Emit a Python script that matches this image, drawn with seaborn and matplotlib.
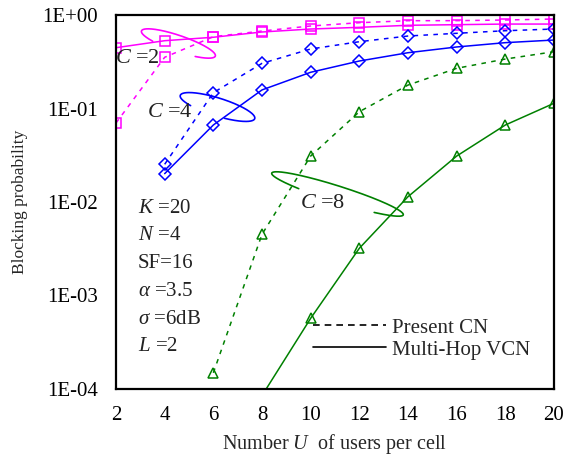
import numpy as np
import pandas as pd
import matplotlib
matplotlib.use("Agg")
import matplotlib.pyplot as plt
import seaborn as sns
from matplotlib.ticker import MultipleLocator, LogLocator, FuncFormatter, NullFormatter
from matplotlib.lines import Line2D

# ---------------- data ----------------
users = [2, 4, 6, 8, 10, 12, 14, 16, 18, 20]

c2_present = [0.070, 0.353, 0.586, 0.674, 0.763, 0.827, 0.869, 0.870, 0.884, 0.906]
c2_vcn = [0.447, 0.531, 0.578, 0.658, 0.708, 0.738, 0.776, 0.788, 0.800, 0.800]

users_c4 = [4, 6, 8, 10, 12, 14, 16, 18, 20]
c4_present = [0.0253, 0.1476, 0.304, 0.433, 0.518, 0.596, 0.637, 0.679, 0.708]
c4_vcn = [0.0201, 0.0666, 0.158, 0.244, 0.322, 0.395, 0.455, 0.506, 0.540]

users_c8_present = [6, 8, 10, 12, 14, 16, 18, 20]
c8_present = [1.49e-4, 4.51e-3, 0.031, 0.0924, 0.178, 0.269, 0.338, 0.405]
users_c8_vcn = [8, 10, 12, 14, 16, 18, 20]
c8_vcn = [8.5e-5, 5.7e-4, 3.2e-3, 0.0114, 0.031, 0.0666, 0.1137]

x_ticks = [2, 4, 6, 8, 10, 12, 14, 16, 18, 20]
y_ticks = [1e-4, 1e-3, 1e-2, 1e-1, 1e0]

params = ["$K$ =20", "$N$ =4", "SF=16", r"$\alpha$ =3.5", r"$\sigma$ =6dB", "$L$ =2"]
legend_labels = ["Present CN", "Multi-Hop VCN"]

# ---------------- style ----------------
sns.set_theme(style="white")
plt.rcParams["font.family"] = ["Liberation Serif", "DejaVu Serif"]
plt.rcParams["mathtext.fontset"] = "custom"
plt.rcParams["mathtext.rm"] = "Liberation Serif"
plt.rcParams["mathtext.it"] = "Liberation Serif:italic"

W, H = 575, 455
fig = plt.figure(figsize=(W / 100, H / 100), dpi=100)
L, R, T, B = 116, 554, 15, 389
ax = fig.add_axes([L / W, 1 - B / H, (R - L) / W, (B - T) / H])

magenta = "#FF00FF"
blue = "#0000FF"
green = "#008000"
dash = (0, (3, 3.5))

series = [
    (users, c2_present, magenta, "s", dash),
    (users, c2_vcn, magenta, "s", "-"),
    (users_c4, c4_present, blue, "D", dash),
    (users_c4, c4_vcn, blue, "D", "-"),
    (users_c8_present, c8_present, green, "^", dash),
    (users_c8_vcn, c8_vcn, green, "^", "-"),
]
for xs, ys, col, mk, ls in series:
    df = pd.DataFrame({"U": xs, "P": ys})
    sns.lineplot(data=df, x="U", y="P", ax=ax, color=col, marker=mk,
                 markersize=7 if mk != "D" else 6, markerfacecolor="none",
                 markeredgecolor=col, markeredgewidth=1.1, linestyle=ls,
                 linewidth=1.1)

ax.set_yscale("log")
ax.set_xlim(2, 20)
ax.set_ylim(1e-4, 1)
ax.set_xticks(x_ticks)
ax.set_yticks(y_ticks)
ax.xaxis.set_minor_locator(MultipleLocator(0.4))
ax.yaxis.set_minor_locator(LogLocator(base=10, subs=np.arange(2, 10)))
ax.yaxis.set_minor_formatter(NullFormatter())
ax.yaxis.set_major_formatter(FuncFormatter(lambda v, p: "1E%+03d" % int(round(np.log10(v)))))

ax.tick_params(axis="both", which="both", direction="in", colors="black",
               top=False, right=False, labelsize=15)
ax.tick_params(axis="x", which="major", length=6, width=1.2, pad=12)
ax.tick_params(axis="x", which="minor", length=3, width=1.0)
ax.tick_params(axis="y", which="major", length=7, width=1.2, pad=13)
ax.tick_params(axis="y", which="minor", length=5, width=1.0)
for s in ax.spines.values():
    s.set_visible(True)
    s.set_color("black")
    s.set_linewidth(1.6)

ax.set_xlabel("Number $U$  of users per cell", fontsize=14.5, labelpad=5)
ax.set_ylabel("Blocking probability", fontsize=12.5, labelpad=10)

# ------------- open ellipses (annotation curves, pixel-defined) -------------
def open_ellipse(cx, cy, a, b, ang_deg, t0, t1, col):
    t = np.radians(np.linspace(t0, t1, 200))
    al = np.radians(ang_deg)
    ux, uy = np.cos(al), np.sin(al)
    wx, wy = -np.sin(al), np.cos(al)
    px = cx + a * np.cos(t) * ux + b * np.sin(t) * wx
    py = cy + a * np.cos(t) * uy + b * np.sin(t) * wy
    fx = (px - L) / (R - L)
    fy = (B - py) / (B - T)
    ax.plot(fx, fy, color=col, lw=1.2, transform=ax.transAxes, clip_on=False)

open_ellipse(178.4, 43.5, 39, 8, 18.8, 130, 419, magenta)
open_ellipse(217.5, 107.0, 39, 9, 17.3, 132, 435, blue)
open_ellipse(337.5, 194.0, 69, 8, 17.6, 124, 414, green)

ax.text(1.96, 0.345, "$C$ =2", fontsize=16, va="center", ha="left", color="#222222")
ax.text(3.27, 0.0900, "$C$ =4", fontsize=16, va="center", ha="left", color="#222222")
ax.text(9.56, 0.00960, "$C$ =8", fontsize=16, va="center", ha="left", color="#222222")

for i, s in enumerate(params):
    yy = 208.3 + i * 27.7
    ax.text((138 - L) / (R - L), (B - yy) / (B - T), s, transform=ax.transAxes,
            fontsize=15, va="center", ha="left", color="#222222")

handles = [Line2D([], [], color="black", lw=1.2, linestyle=(0, (4, 3))),
           Line2D([], [], color="black", lw=1.2, linestyle="-")]
ax.legend(handles, legend_labels, loc="upper left",
          bbox_to_anchor=((313 - L) / (R - L), (B - 318) / (B - T)),
          frameon=False, fontsize=15, handlelength=3.5, handletextpad=0.3,
          labelspacing=0.12, borderpad=0, borderaxespad=0)

fig.savefig("out.png", dpi=100)
